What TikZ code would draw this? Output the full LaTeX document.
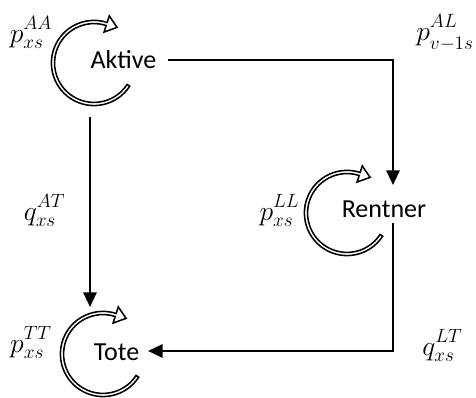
\documentclass[tikz,border=0pt]{standalone}
\usepackage[no-math]{fontspec}
\setmainfont{Carlito}
\usetikzlibrary{arrows.meta,calc}
\newcommand{\lbl}[3]{$#1^{#2\vphantom{g}}_{\vphantom{A}#3}$}
\begin{document}
\begin{tikzpicture}[x=0.75pt,y=0.75pt,
  state/.style={inner sep=0pt, font=\fontsize{19.5}{23}\selectfont},
  lab/.style={inner sep=0pt, font=\fontsize{21}{24}\selectfont},
  conn/.style={line width=1.5pt, -{Triangle[length=11pt,width=10pt]}},
  cycline/.style={line width=1.15pt, fill=white, line join=miter},
  cyc/.pic={
    \draw[cycline] (-33:42.6) arc[start angle=-33, end angle=-288, radius=42.6]
      -- (-288:49.5) -- (23.1,35.6) -- (-288:32.5) -- (-288:39.4)
      arc[start angle=-288, end angle=-33, radius=39.4] -- cycle;
  }]
\useasboundingbox (0,0) rectangle (476,398);
% self-loop arrows
\pic (cA) at (94,335) {cyc};
\pic (cR) at (347,185) {cyc};
\pic (cT) at (103,44) {cyc};
% states
\node[state] (A) at (123.5,338) {Aktive};
\node[state] (R) at (384,188.5) {Rentner};
\node[state] (T) at (116.5,45.5) {Tote};
% connectors
\draw[conn] ($(A.center)+(44.5,0)$) -| ($(R.center)+(9,24.5)$);
\draw[conn] ($(A.center)+(-33.5,-57)$) -- ($(T.center)+(-26.5,45.5)$);
\draw[conn] ($(R.center)+(9,-13.5)$) |- ($(T.center)+(31.5,1.5)$);
% labels
\node[lab] (lAA) at (31,366) {\lbl{p}{AA}{xs}};
\node[lab] (lAL) at (445,365) {$p^{AL\vphantom{g}}_{\vphantom{A}\raisebox{-2.5pt}{$\scriptstyle v-1s$}}$};
\node[lab] (lAT) at (44.5,188) {\lbl{q}{AT}{xs}};
\node[lab] (lLL) at (279.5,188) {\lbl{p}{LL}{xs}};
\node[lab] (lTT) at (31,56) {\lbl{p}{TT}{xs}};
\node[lab] (lLT) at (442.5,53) {\lbl{q}{LT}{xs}};
\end{tikzpicture}
\end{document}
